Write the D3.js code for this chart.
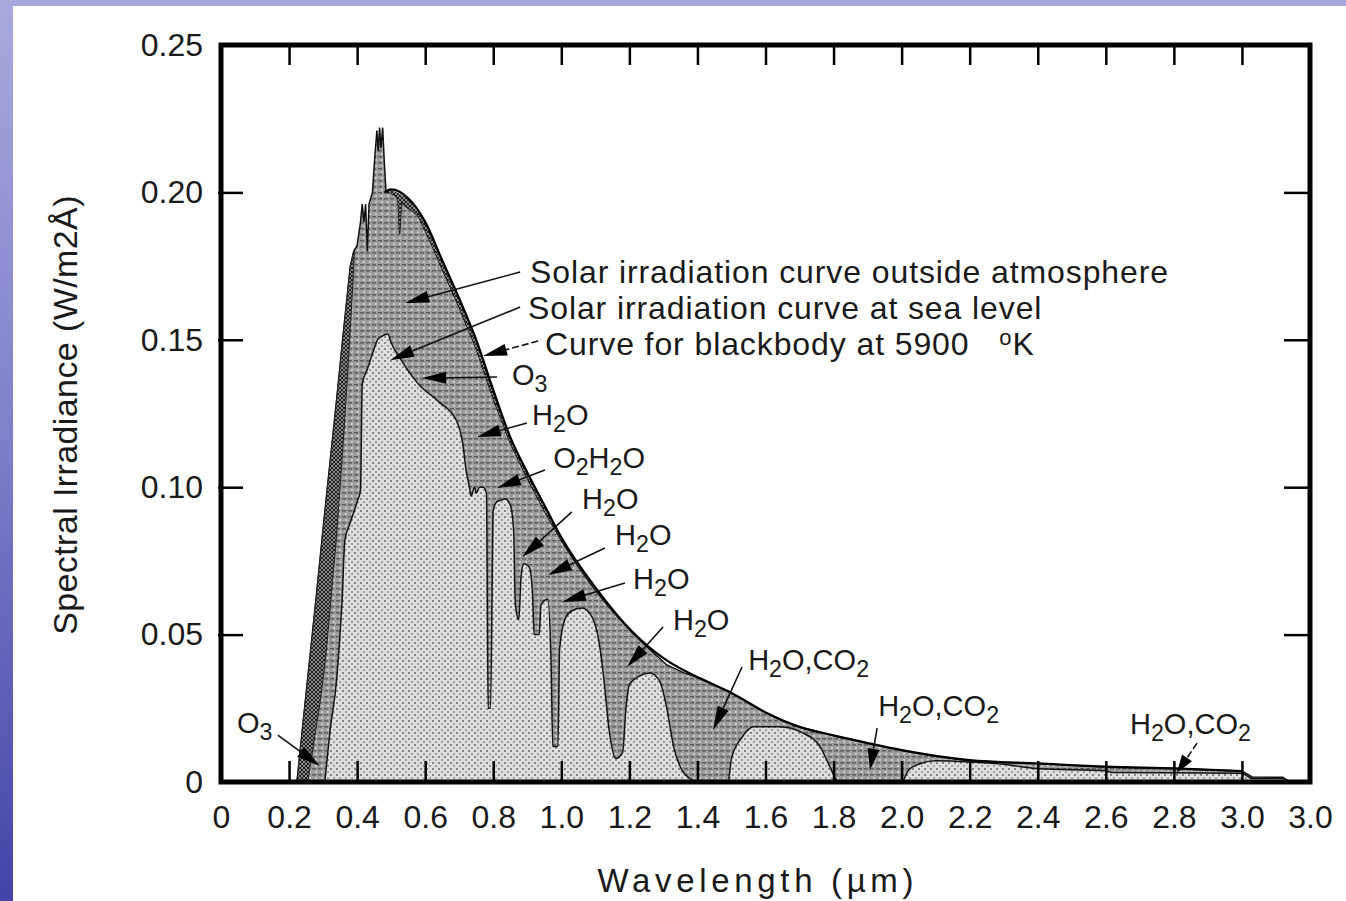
<!DOCTYPE html>
<html>
<head>
<meta charset="utf-8">
<script src="https://cdn.jsdelivr.net/npm/d3@7"></script>
<style>
body { margin: 0; background: #fff; }
svg { display: block; font-family: "Liberation Sans", Arial, Helvetica, sans-serif; }
</style>
</head>
<body>
<svg id="chart" width="1346" height="901"></svg>
<script>
// tick values + labels (the right edge is labelled 3.0 in the original too)
var xTickValues = [0, 0.2, 0.4, 0.6, 0.8, 1.0, 1.2, 1.4, 1.6, 1.8, 2.0, 2.2, 2.4, 2.6, 2.8, 3.0, 3.2];
var xTickLabels = ["0", "0.2", "0.4", "0.6", "0.8", "1.0", "1.2", "1.4", "1.6", "1.8", "2.0", "2.2", "2.4", "2.6", "2.8", "3.0", "3.0"];
var yTickValues = [0, 0.05, 0.10, 0.15, 0.20, 0.25];
var yTickLabels = ["0", "0.05", "0.10", "0.15", "0.20", "0.25"];

// [wavelength um, irradiance W/m2A]
var outside = [[0.223,0],[0.25,0.03],[0.28,0.063],[0.30,0.086],[0.32,0.108],[0.34,0.13],[0.36,0.153],[0.38,0.175],
    [0.39,0.18],[0.40,0.182],[0.41,0.19],[0.415,0.196],[0.42,0.19],[0.425,0.196],[0.43,0.18],[0.435,0.196],
    [0.445,0.2],[0.452,0.212],[0.458,0.221],[0.462,0.214],[0.466,0.222],[0.47,0.215],[0.475,0.222],[0.48,0.21],
    [0.485,0.2],[0.495,0.2],[0.51,0.199],[0.52,0.198],[0.525,0.186],[0.53,0.197],[0.545,0.195],[0.56,0.194],
    [0.58,0.192],[0.6,0.187],[0.62,0.182],[0.65,0.174],[0.7,0.161],[0.75,0.147],[0.8,0.13],[0.85,0.115],
    [0.9,0.103],[0.95,0.092],[1.0,0.082],[1.05,0.073],[1.1,0.065],[1.15,0.058],[1.21,0.0505],[1.26,0.045],
    [1.31,0.0397],[1.36,0.037],[1.41,0.0352],[1.45,0.033],[1.5,0.0302],[1.55,0.027],[1.6,0.0236],[1.65,0.021],
    [1.7,0.0187],[1.75,0.0172],[1.8,0.0158],[1.85,0.0145],[1.9,0.0132],[1.95,0.012],[2.0,0.0108],[2.1,0.0088],
    [2.2,0.0072],[2.3,0.0066],[2.4,0.0063],[2.5,0.0057],[2.6,0.0051],[2.8,0.0046],[3.0,0.0037],[3.03,0.0017],
    [3.12,0.0016],[3.14,0]];

var seaLevel = [[0.305,0],[0.32,0.017],[0.34,0.035],[0.356,0.062],[0.364,0.082],[0.38,0.088],[0.40,0.095],
    [0.41,0.099],[0.415,0.135],[0.43,0.14],[0.45,0.147],[0.46,0.15],[0.47,0.151],[0.49,0.152],[0.5,0.149],
    [0.53,0.143],[0.58,0.135],[0.64,0.129],[0.69,0.123],[0.71,0.115],[0.72,0.106],[0.73,0.1],[0.735,0.097],
    [0.745,0.1],[0.75,0.098],[0.76,0.1],[0.77,0.1],[0.78,0.098],[0.785,0.025],[0.792,0.025],[0.8,0.092],
    [0.81,0.095],[0.82,0.0955],[0.835,0.096],[0.85,0.094],[0.86,0.085],[0.865,0.06],[0.875,0.055],[0.882,0.07],
    [0.89,0.074],[0.905,0.073],[0.915,0.065],[0.92,0.05],[0.935,0.05],[0.94,0.06],[0.96,0.062],[0.97,0.04],
    [0.975,0.012],[0.99,0.012],[0.995,0.045],[1.01,0.055],[1.03,0.058],[1.06,0.059],[1.09,0.056],[1.11,0.048],
    [1.125,0.035],[1.14,0.018],[1.16,0.008],[1.18,0.01],[1.19,0.025],[1.2,0.033],[1.23,0.036],[1.26,0.037],
    [1.29,0.034],[1.31,0.025],[1.33,0.012],[1.35,0.005],[1.38,0.001],[1.4,0],[1.49,0],[1.5,0.008],[1.53,0.015],
    [1.565,0.0187],[1.64,0.0187],[1.71,0.0166],[1.76,0.012],[1.79,0.005],[1.81,0.0005],[1.82,0],[2.0,0],
    [2.02,0.004],[2.05,0.006],[2.1,0.0072],[2.2,0.0068],[2.3,0.006],[2.35,0.0052],[2.4,0.0045],[2.6,0.0038],
    [2.62,0.0032],[3.0,0.003],[3.03,0.0012],[3.12,0.0012],[3.14,0]];

var blackbody = [[0.48,0.2],[0.5,0.201],[0.55,0.198],[0.6,0.19],[0.65,0.177],[0.7,0.164],[0.75,0.15],[0.8,0.133],
    [0.85,0.117],[0.9,0.105],[0.95,0.094],[1.0,0.083],[1.1,0.066],[1.2,0.052],[1.3,0.042],[1.4,0.0355],[1.5,0.0302],
    [1.6,0.0236],[1.7,0.0187],[1.8,0.0158],[1.9,0.0132],[2.0,0.0108],[2.2,0.0074],[2.4,0.0063],[2.6,0.0052],
    [2.8,0.0046],[3.0,0.0037]];

// inner edge of the dark O3 band on the UV side
var ozoneEdge = [[0.255,0],[0.275,0.015],[0.295,0.03],[0.31,0.045],[0.323,0.062],[0.337,0.08],[0.35,0.1],
    [0.365,0.125],[0.378,0.15],[0.388,0.17],[0.392,0.18]];

// annotations: text baseline start, leader start, arrow tip (all in data units)
var notes = [
    {text: "Solar irradiation curve outside atmosphere", big: true, at: [0.908,0.1692], from: [0.879,0.173], to: [0.541,0.1625]},
    {text: "Solar irradiation curve at sea level", big: true, at: [0.902,0.1572], from: [0.879,0.1611], to: [0.497,0.1431]},
    {text: "Curve for blackbody at 5900 ^oK", big: true, dash: true, at: [0.952,0.1449], from: [0.932,0.1496], to: [0.770,0.1445]},
    {text: "O_3", at: [0.855,0.1347], from: [0.811,0.1374], to: [0.591,0.137]},
    {text: "H_2O", at: [0.914,0.1211], from: [0.899,0.1218], to: [0.752,0.117]},
    {text: "O_2H_2O", at: [0.976,0.1065], from: [0.952,0.1058], to: [0.811,0.0997]},
    {text: "H_2O", at: [1.061,0.0926], from: [1.031,0.0916], to: [0.885,0.0763]},
    {text: "H_2O", at: [1.158,0.0804], from: [1.128,0.0794], to: [0.961,0.0702]},
    {text: "H_2O", at: [1.211,0.0655], from: [1.187,0.0675], to: [1.002,0.0611]},
    {text: "H_2O", at: [1.328,0.0516], from: [1.299,0.0526], to: [1.193,0.039]},
    {text: "H_2O,CO_2", at: [1.549,0.038], from: [1.531,0.039], to: [1.446,0.0176]},
    {text: "H_2O,CO_2", at: [1.931,0.0224], from: [1.928,0.0183], to: [1.907,0.0041]},
    {text: "H_2O,CO_2", dash: true, at: [2.671,0.0163], from: [2.868,0.0132], to: [2.809,0.0031]},
    {text: "O_3", at: [0.047,0.0166], from: [0.167,0.0159], to: [0.291,0.0054]}
];

var svg = d3.select('#chart');
var defs = svg.append('defs');

// slide background strips
var grad = defs.append('linearGradient').attr('id', 'edgeGrad').attr('x1', 0).attr('y1', 0).attr('x2', 0).attr('y2', 1);
grad.append('stop').attr('offset', '0').attr('stop-color', '#a9a9de');
grad.append('stop').attr('offset', '0.5').attr('stop-color', '#7d7dc9');
grad.append('stop').attr('offset', '1').attr('stop-color', '#4444a8');

// textures
var pl = defs.append('pattern').attr('id', 'lightFill').attr('patternUnits', 'userSpaceOnUse').attr('width', 6).attr('height', 6);
pl.append('rect').attr('width', 6).attr('height', 6).attr('fill', '#dedede');
pl.append('rect').attr('width', 2).attr('height', 2).attr('fill', '#848484');
pl.append('path').attr('d', 'M3,3 L5,5 M5,3 L3,5').attr('stroke', '#9a9a9a').attr('stroke-width', 0.9);

var pm = defs.append('pattern').attr('id', 'medFill').attr('patternUnits', 'userSpaceOnUse').attr('width', 6).attr('height', 6);
pm.append('rect').attr('width', 6).attr('height', 6).attr('fill', '#9c9c9c');
pm.append('rect').attr('width', 4).attr('height', 1.5).attr('fill', '#5e5e5e');
pm.append('rect').attr('x', 3).attr('y', 3).attr('width', 2).attr('height', 2).attr('fill', '#cacaca');

var pd = defs.append('pattern').attr('id', 'darkFill').attr('patternUnits', 'userSpaceOnUse').attr('width', 4).attr('height', 4);
pd.append('rect').attr('width', 4).attr('height', 4).attr('fill', '#8c8c8c');
pd.append('path').attr('d', 'M0,0 L4,4 M4,0 L0,4').attr('stroke', '#1e1e1e').attr('stroke-width', 1);

svg.append('rect').attr('x', 0).attr('y', 0).attr('width', 1346).attr('height', 6).attr('fill', '#a7a7de');
svg.append('rect').attr('x', 0).attr('y', 0).attr('width', 13).attr('height', 901).attr('fill', 'url(#edgeGrad)');

var x = d3.scaleLinear().domain([0, 3.2]).range([221, 1310]);
var y = d3.scaleLinear().domain([0, 0.25]).range([782, 45]);

var area = d3.area().x(function (d) { return x(d[0]); }).y0(y(0)).y1(function (d) { return y(d[1]); });
var line = d3.line().x(function (d) { return x(d[0]); }).y(function (d) { return y(d[1]); });

// outside atmosphere
svg.append('path').attr('d', area(outside)).attr('fill', 'url(#medFill)')
    .attr('stroke', '#111').attr('stroke-width', 1.5);

// O3 band on the left edge
var band = outside.filter(function (d) { return d[0] <= 0.39; }).concat(ozoneEdge.slice().reverse());
svg.append('path').attr('d', line(band) + 'Z').attr('fill', 'url(#darkFill)')
    .attr('stroke', '#222').attr('stroke-width', 1);

// thin dark strip between blackbody and outside curve
var strip = blackbody.filter(function (d) { return d[0] <= 1.0; })
    .concat(outside.filter(function (d) { return d[0] >= 0.485 && d[0] <= 1.0; }).reverse());
svg.append('path').attr('d', line(strip) + 'Z').attr('fill', 'url(#darkFill)').attr('stroke', 'none');

// sea level
svg.append('path').attr('d', area.curve(d3.curveMonotoneX)(seaLevel)).attr('fill', 'url(#lightFill)')
    .attr('stroke', '#111').attr('stroke-width', 1.5);

// blackbody
svg.append('path').attr('d', line.curve(d3.curveMonotoneX)(blackbody)).attr('fill', 'none')
    .attr('stroke', '#000').attr('stroke-width', 2.2);

// axes
var gx = svg.append('g').attr('transform', 'translate(0,' + y(0) + ')')
    .call(d3.axisBottom(x).tickValues(xTickValues).tickSize(0).tickPadding(23)
        .tickFormat(function (d, i) { return xTickLabels[i]; }));
var gy = svg.append('g').attr('transform', 'translate(' + x(0) + ',0)')
    .call(d3.axisLeft(y).tickValues(yTickValues).tickSize(0).tickPadding(18)
        .tickFormat(function (d, i) { return yTickLabels[i]; }));
[gx, gy].forEach(function (g) {
    g.attr('font-family', null).attr('font-size', null);
    g.select('.domain').remove();
    g.selectAll('text').attr('font-size', 32).attr('fill', '#1a1a1a');
});

var inner = xTickValues.slice(1, -1);
svg.append('g').attr('transform', 'translate(0,' + y(0) + ')')
    .call(d3.axisBottom(x).tickValues(inner).tickSize(-21).tickFormat(''))
    .call(function (g) { g.select('.domain').remove(); g.selectAll('line').attr('stroke-width', 2.5); });
svg.append('g').attr('transform', 'translate(0,' + y(0.25) + ')')
    .call(d3.axisTop(x).tickValues(inner).tickSize(-20).tickFormat(''))
    .call(function (g) { g.select('.domain').remove(); g.selectAll('line').attr('stroke-width', 2.5); });
svg.append('g').attr('transform', 'translate(' + (x(0) - 3) + ',0)')
    .call(d3.axisLeft(y).tickValues(yTickValues.slice(1, -1)).tickSize(-25).tickFormat(''))
    .call(function (g) { g.select('.domain').remove(); g.selectAll('line').attr('stroke-width', 2.5); });
svg.append('g').attr('transform', 'translate(' + x(3.2) + ',0)')
    .call(d3.axisRight(y).tickValues(yTickValues.slice(1, -1)).tickSize(-26).tickFormat(''))
    .call(function (g) { g.select('.domain').remove(); g.selectAll('line').attr('stroke-width', 2.5); });

// frame
svg.append('rect').attr('x', x(0)).attr('y', y(0.25)).attr('width', x(3.2) - x(0)).attr('height', y(0) - y(0.25))
    .attr('fill', 'none').attr('stroke', '#000').attr('stroke-width', 5);

// axis titles
svg.append('text').attr('x', (x(0) + x(3.2)) / 2 - 10).attr('y', 892).attr('text-anchor', 'middle')
    .attr('font-size', 33).attr('fill', '#1a1a1a').attr('textLength', 316).attr('lengthAdjust', 'spacing')
    .text('Wavelength (\u00b5m)');
svg.append('text').attr('transform', 'translate(77,415) rotate(-90)').attr('text-anchor', 'middle')
    .attr('font-size', 34).attr('letter-spacing', 0.4).attr('fill', '#1a1a1a').text('Spectral Irradiance (W/m2\u00c5)');

// rich text: _c subscript, ^c superscript
function rich(sel, str, size) {
    var parts = [], i = 0, buf = '';
    while (i < str.length) {
        var c = str[i];
        if ((c === '_' || c === '^') && i + 1 < str.length) {
            if (buf) { parts.push({t: buf, k: 0}); buf = ''; }
            parts.push({t: str[i + 1], k: c === '_' ? 1 : -1});
            i += 2;
        } else { buf += c; i++; }
    }
    if (buf) parts.push({t: buf, k: 0});
    var shift = 0;
    parts.forEach(function (p) {
        var ts = sel.append('tspan').text(p.t);
        var want = p.k === 1 ? size * 0.24 : (p.k === -1 ? -10 : 0);
        ts.attr('dy', want - shift);
        shift = want;
        if (p.k === 1) ts.attr('font-size', size * 0.8);
        if (p.k === -1) ts.attr('font-size', 22).attr('dx', 20);
    });
}

var ng = svg.append('g');
notes.forEach(function (n) {
    var fx = x(n.from[0]), fy = y(n.from[1]), tx = x(n.to[0]), ty = y(n.to[1]);
    var dx = fx - tx, dy = fy - ty, len = Math.sqrt(dx * dx + dy * dy);
    var ux = dx / len, uy = dy / len, L = Math.min(24, len * 0.5), w = 6;
    var bx = tx + ux * L, by = ty + uy * L;
    ng.append('line').attr('x1', fx).attr('y1', fy).attr('x2', bx).attr('y2', by)
        .attr('stroke', '#111').attr('stroke-width', 1.6)
        .attr('stroke-dasharray', n.dash ? '7,3' : null);
    ng.append('path').attr('d', 'M' + tx + ',' + ty + 'L' + (bx - uy * w) + ',' + (by + ux * w) +
        'L' + (bx + uy * w) + ',' + (by - ux * w) + 'Z').attr('fill', '#000');
    var size = n.big ? 32 : 29;
    var t = ng.append('text').attr('x', x(n.at[0])).attr('y', y(n.at[1])).attr('font-size', size).attr('fill', '#1a1a1a');
    if (n.big) t.attr('letter-spacing', 0.9);
    rich(t, n.text, size);
});
</script>
</body>
</html>
